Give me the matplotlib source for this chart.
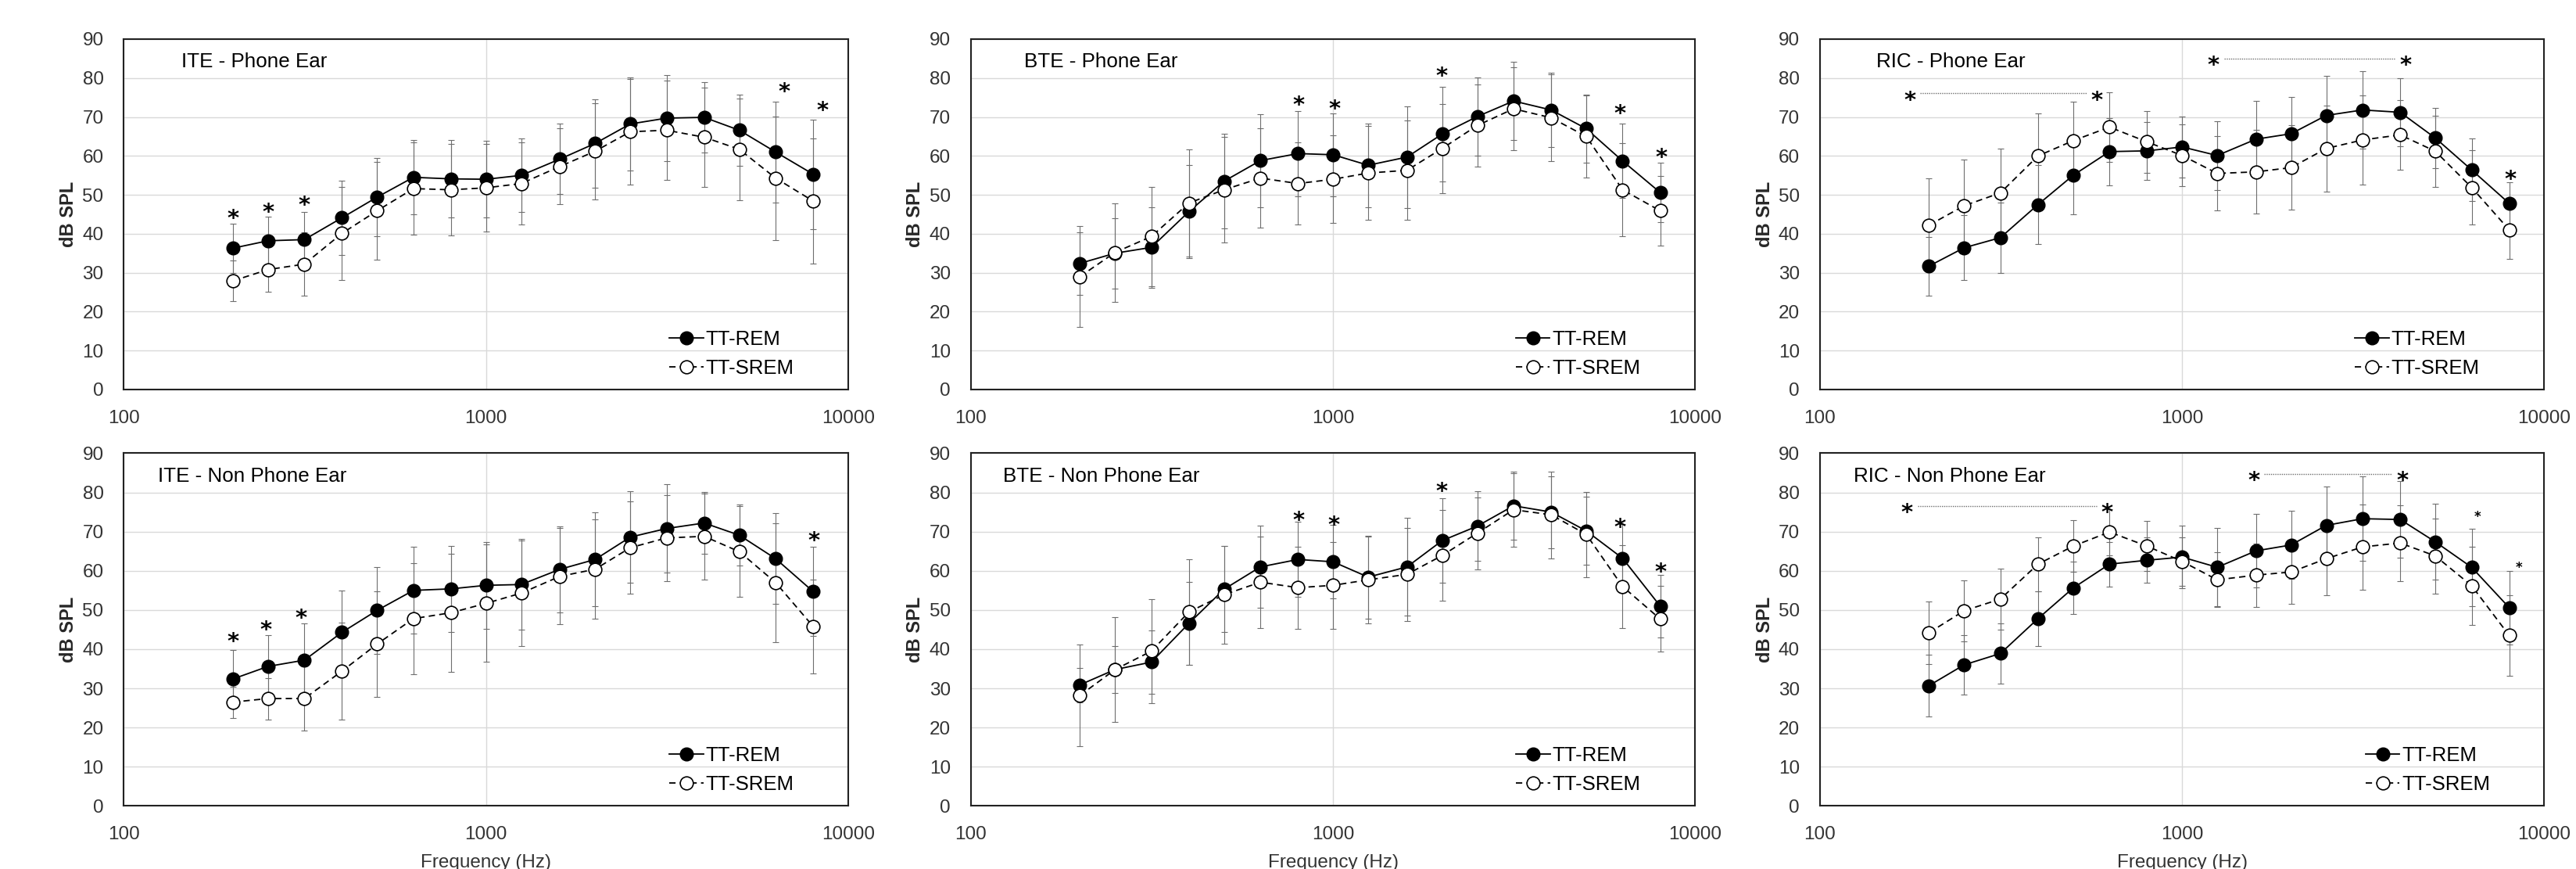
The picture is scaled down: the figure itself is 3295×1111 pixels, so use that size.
import matplotlib.pyplot as plt

plt.rcParams['font.family'] = ['Liberation Sans', 'DejaVu Sans']

# 1/3-octave centre frequencies (Hz)
freqs = [200, 250, 315, 400, 500, 630, 800, 1000, 1250, 1600, 2000, 2500,
         3150, 4000, 5000, 6300, 8000]

# ITE - Phone Ear
ite_ph_rem = [36.3, 38.2, 38.5, 44.1, 49.4, 54.5, 54.1, 54.0, 55.0, 59.2, 63.2, 68.2, 69.7, 69.9, 66.6, 61.0, 55.3]
ite_ph_rem_sd = [6.3, 6.1, 7.0, 9.5, 10.0, 9.6, 9.9, 9.8, 9.5, 9.0, 11.4, 12.0, 11.1, 9.0, 9.2, 13.0, 14.1]
ite_ph_srem = [27.9, 30.8, 32.2, 40.1, 45.9, 51.6, 51.3, 51.8, 52.9, 57.3, 61.2, 66.2, 66.6, 64.8, 61.7, 54.3, 48.4]
ite_ph_srem_sd = [5.3, 5.7, 8.1, 12.0, 12.5, 11.8, 11.7, 11.2, 10.5, 9.7, 12.4, 13.5, 12.8, 12.7, 13.0, 15.9, 16.0]

# BTE - Phone Ear
bte_ph_rem = [32.4, 35.0, 36.5, 45.7, 53.5, 58.8, 60.6, 60.3, 57.6, 59.7, 65.6, 70.1, 74.1, 71.8, 67.0, 58.7, 50.6]
bte_ph_rem_sd = [8.0, 9.0, 10.3, 12.0, 12.2, 12.0, 11.0, 10.6, 10.8, 13.0, 12.2, 10.0, 10.0, 9.6, 8.8, 9.5, 7.7]
bte_ph_srem = [29.0, 35.2, 39.3, 47.9, 51.3, 54.3, 52.9, 54.0, 55.6, 56.3, 61.9, 67.8, 72.1, 69.8, 65.0, 51.3, 45.9]
bte_ph_srem_sd = [13.0, 12.7, 12.7, 13.8, 13.5, 12.8, 10.5, 11.3, 12.1, 12.8, 11.5, 10.5, 10.6, 11.2, 10.5, 11.9, 8.9]

# RIC - Phone Ear
ric_ph_rem = [31.7, 36.4, 39.0, 47.5, 55.0, 61.1, 61.3, 62.3, 60.1, 64.3, 65.7, 70.4, 71.8, 71.2, 64.6, 56.4, 47.8]
ric_ph_rem_sd = [7.5, 8.3, 9.1, 10.1, 10.0, 8.6, 7.5, 7.8, 8.8, 9.9, 9.5, 10.1, 10.0, 8.8, 7.8, 8.0, 5.5]
ric_ph_srem = [42.2, 47.2, 50.5, 60.0, 63.9, 67.4, 63.6, 60.1, 55.5, 55.9, 57.0, 61.9, 64.1, 65.4, 61.2, 51.9, 41.0]
ric_ph_srem_sd = [12.1, 11.9, 11.4, 10.9, 10.0, 9.0, 8.0, 7.9, 9.5, 10.8, 10.8, 11.0, 11.5, 9.0, 9.2, 9.5, 7.5]

# ITE - Non Phone Ear
ite_np_rem = [32.4, 35.6, 37.2, 44.3, 49.9, 55.0, 55.4, 56.3, 56.5, 60.4, 62.9, 68.6, 70.8, 72.2, 69.1, 63.1, 54.7]
ite_np_rem_sd = [7.4, 8.0, 9.3, 10.7, 11.1, 11.1, 11.0, 11.1, 11.6, 11.0, 12.0, 11.7, 11.3, 7.9, 7.8, 11.6, 11.4]
ite_np_srem = [26.5, 27.4, 27.4, 34.4, 41.3, 47.8, 49.3, 51.7, 54.3, 58.6, 60.4, 65.9, 68.4, 68.8, 64.9, 57.0, 45.8]
ite_np_srem_sd = [4.0, 5.3, 8.2, 12.3, 13.5, 14.2, 15.0, 15.0, 13.5, 12.3, 12.7, 11.8, 11.0, 11.0, 11.6, 15.2, 11.9]

# BTE - Non Phone Ear
bte_np_rem = [30.9, 34.8, 36.7, 46.6, 55.3, 61.0, 62.9, 62.3, 58.4, 61.0, 67.7, 71.4, 76.6, 75.0, 70.2, 63.2, 51.0]
bte_np_rem_sd = [4.4, 5.9, 8.0, 10.5, 11.0, 10.5, 9.6, 9.4, 10.6, 12.5, 10.8, 8.9, 8.7, 9.2, 8.7, 8.8, 8.0]
bte_np_srem = [28.2, 34.8, 39.5, 49.5, 53.9, 57.1, 55.7, 56.3, 57.7, 59.1, 63.9, 69.6, 75.6, 74.3, 69.3, 56.0, 47.7]
bte_np_srem_sd = [13.0, 13.4, 13.3, 13.4, 12.5, 11.7, 10.5, 11.1, 11.1, 11.9, 11.6, 9.2, 9.4, 11.1, 10.9, 10.6, 8.4]

# RIC - Non Phone Ear
ric_np_rem = [30.7, 36.0, 38.9, 47.8, 55.6, 61.7, 62.7, 63.5, 60.9, 65.1, 66.6, 71.6, 73.3, 73.1, 67.4, 60.9, 50.6]
ric_np_rem_sd = [7.9, 7.5, 7.7, 7.0, 6.7, 5.7, 5.8, 8.0, 10.0, 9.4, 8.7, 10.0, 10.8, 9.8, 9.7, 9.9, 9.4]
ric_np_srem = [44.2, 49.8, 52.8, 61.7, 66.3, 69.9, 66.3, 62.4, 57.7, 58.9, 59.7, 63.1, 66.1, 67.1, 63.8, 56.2, 43.5]
ric_np_srem_sd = [8.0, 7.8, 7.8, 6.9, 6.6, 5.9, 6.4, 6.2, 7.0, 8.1, 8.2, 9.3, 10.9, 9.7, 9.6, 10.0, 10.2]

# significance asterisks: (frequency, dB) of the star
ite_ph_stars = [(200, 45.7), (250, 47.3), (315, 49.0), (6640, 78.3), (8470, 73.3)]
bte_ph_stars = [(804, 74.8), (1009, 73.7), (1992, 82.3), (6190, 72.6), (8040, 61.4)]
ric_ph_stars = [(8070, 55.7)]
ite_np_stars = [(200, 43.6), (247, 46.7), (309, 49.7), (8050, 69.5)]
bte_np_stars = [(804, 74.6), (1004, 73.4), (1990, 82.0), (6200, 72.7), (8000, 61.5)]
ric_np_small_stars = [(6545, 74.8), (8500, 61.9)]

# star ... star ranges: (start Hz, end Hz, dB)
ric_ph_ranges = [(177, 582, 76.1), (1220, 4134, 85.0)]
ric_np_ranges = [(174, 621, 76.6), (1576, 4065, 84.8)]

yticks = [0, 10, 20, 30, 40, 50, 60, 70, 80, 90]
xticks = [100, 1000, 10000]

col_left = [0.0481, 0.3769, 0.7065]
row_bottom = [0.5518, 0.0726]
ax_w = 0.2812
ax_h = [0.4032, 0.4058]

panels = [
    dict(title='ITE - Phone Ear', rem=ite_ph_rem, rem_sd=ite_ph_rem_sd, srem=ite_ph_srem,
         srem_sd=ite_ph_srem_sd, stars=ite_ph_stars, row=0, col=0, tx=0.079, lx=0.925),
    dict(title='BTE - Phone Ear', rem=bte_ph_rem, rem_sd=bte_ph_rem_sd, srem=bte_ph_srem,
         srem_sd=bte_ph_srem_sd, stars=bte_ph_stars, row=0, col=1, tx=0.074, lx=0.924),
    dict(title='RIC - Phone Ear', rem=ric_ph_rem, rem_sd=ric_ph_rem_sd, srem=ric_ph_srem,
         srem_sd=ric_ph_srem_sd, stars=ric_ph_stars, ranges=ric_ph_ranges, row=0, col=2,
         tx=0.078, lx=0.910),
    dict(title='ITE - Non Phone Ear', rem=ite_np_rem, rem_sd=ite_np_rem_sd, srem=ite_np_srem,
         srem_sd=ite_np_srem_sd, stars=ite_np_stars, row=1, col=0, tx=0.047, lx=0.925),
    dict(title='BTE - Non Phone Ear', rem=bte_np_rem, rem_sd=bte_np_rem_sd, srem=bte_np_srem,
         srem_sd=bte_np_srem_sd, stars=bte_np_stars, row=1, col=1, tx=0.044, lx=0.9245),
    dict(title='RIC - Non Phone Ear', rem=ric_np_rem, rem_sd=ric_np_rem_sd, srem=ric_np_srem,
         srem_sd=ric_np_srem_sd, stars=[], small_stars=ric_np_small_stars, ranges=ric_np_ranges,
         row=1, col=2, tx=0.047, lx=0.925),
]


def put_star(ax, f, y, size=21):
    # nudge down so the glyph itself (not its text box) sits on y
    ax.annotate('*', (f, y), xytext=(0, -size * 0.32), textcoords='offset points',
                ha='center', va='center', fontsize=size, family='DejaVu Sans',
                fontweight='bold', color='black', zorder=6)


def draw_panel(fig, p):
    r, c = p['row'], p['col']
    ax = fig.add_axes([col_left[c], row_bottom[r], ax_w, ax_h[r]])
    ax.set_xscale('log')
    ax.set_xlim(100, 10000)
    ax.set_ylim(0, 90)
    ax.set_xticks(xticks)
    ax.set_xticklabels([str(t) for t in xticks])
    ax.xaxis.set_minor_locator(plt.NullLocator())
    ax.set_yticks(yticks)
    ax.tick_params(length=0, labelsize=17.5, labelcolor='#333333')
    ax.tick_params(axis='y', pad=18.7)
    ax.tick_params(axis='x', pad=18.5)
    ax.grid(True, color='#d9d9d9', lw=1.0, zorder=0)
    ax.set_axisbelow(True)
    for s in ax.spines.values():
        s.set_linewidth(1.5)
        s.set_color('#222222')
        s.set_zorder(7)

    ax.errorbar(freqs, p['rem'], yerr=p['rem_sd'], fmt='none', ecolor='#6e6e6e',
                elinewidth=0.8, capsize=3, capthick=0.8, zorder=2)
    ax.errorbar(freqs, p['srem'], yerr=p['srem_sd'], fmt='none', ecolor='#6e6e6e',
                elinewidth=0.8, capsize=3, capthick=0.8, zorder=2)
    ax.plot(freqs, p['rem'], color='black', lw=1.3, marker='o', ms=12,
            mfc='black', mec='black', mew=1.0, label='TT-REM', zorder=4)
    ax.plot(freqs, p['srem'], color='black', lw=1.3, ls=(0, (4.5, 3)), marker='o', ms=12,
            mfc='white', mec='black', mew=1.2, label='TT-SREM', zorder=5)

    for f, y in p['stars']:
        put_star(ax, f, y)
    for f, y in p.get('small_stars', []):
        put_star(ax, f, y, size=12)
    for f1, f2, y in p.get('ranges', []):
        put_star(ax, f1, y)
        put_star(ax, f2, y)
        ax.plot([f1 * 1.07, f2 / 1.07], [y, y], color='#6e6e6e', lw=1.0,
                ls=(0, (1, 1)), zorder=3)

    ax.text(p['tx'], 0.92, p['title'], transform=ax.transAxes, fontsize=18.7,
            va='baseline', ha='left', color='black')
    ax.set_ylabel('dB SPL', fontsize=17, fontweight='bold', color='#262626')
    ax.yaxis.set_label_coords(-0.0641, 0.5)
    if r == 1:
        ax.set_xlabel('Frequency (Hz)', fontsize=17.5, color='#333333', labelpad=10)

    ax.legend(loc='lower right', bbox_to_anchor=(p['lx'], 0.034), frameon=False,
              fontsize=18.5, handlelength=1.7, handletextpad=0.1, labelspacing=0.5,
              borderpad=0, borderaxespad=0)
    return ax


fig = plt.figure(figsize=(32.95, 11.11), dpi=100)
for p in panels:
    draw_panel(fig, p)

fig.savefig('out.png', dpi=100, facecolor='white')
